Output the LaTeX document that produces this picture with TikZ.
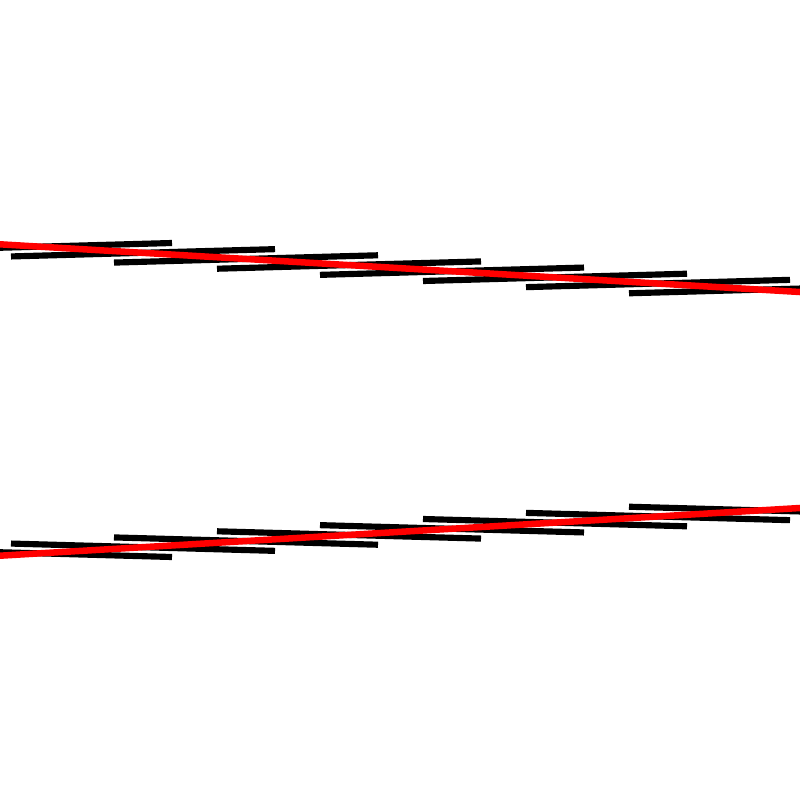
\documentclass[tikz,border=0pt]{standalone}
\begin{document}
\begin{tikzpicture}[x=0.01cm,y=-0.01cm,
  seg/.style={line width=1.75pt, black, line cap=butt},
  redline/.style={line width=1.85pt, red}]
\useasboundingbox (0,0) rectangle (800,800);
\clip (0,0) rectangle (800,800);
\fill[white] (0,0) rectangle (800,800);
\foreach \k in {0,...,7}{
  \draw[seg] ({-92+103*\k},{250.3+6.14*\k}) -- ({172+103*\k},{243+6.14*\k});
  \draw[seg] ({-92+103*\k},{800-250.3-6.14*\k}) -- ({172+103*\k},{800-243-6.14*\k});
}
\draw[redline] (-10,243.7) -- (810,292.6);
\draw[redline] (-10,556.3) -- (810,507.4);
\end{tikzpicture}
\end{document}
